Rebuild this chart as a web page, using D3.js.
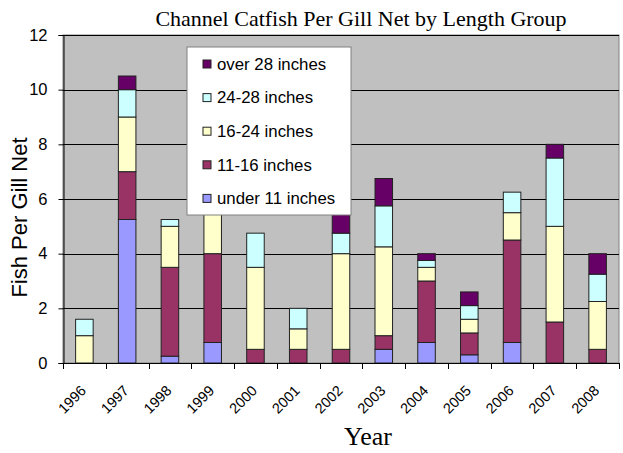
<!DOCTYPE html>
<html>
<head>
<meta charset="utf-8">
<script src="https://cdn.jsdelivr.net/npm/d3@7"></script>
<style>
  body { margin: 0; background: #fff; }
  text { font-family: "Liberation Sans", Arial, sans-serif; fill: #000; }
  .serif { font-family: "Liberation Serif", "Times New Roman", serif; }
</style>
</head>
<body>
<div id="chart"></div>
<script>
var years = ["1996", "1997", "1998", "1999", "2000", "2001", "2002",
             "2003", "2004", "2005", "2006", "2007", "2008"];
var groups = ["under 11 inches", "11-16 inches", "16-24 inches", "24-28 inches", "over 28 inches"];
var under11 = [0, 5.25, 0.25, 0.75, 0, 0, 0, 0.5, 0.75, 0.3, 0.75, 0, 0];
var in11to16 = [0, 1.75, 3.25, 3.25, 0.5, 0.5, 0.5, 0.5, 2.25, 0.8, 3.75, 1.5, 0.5];
var in16to24 = [1.0, 2.0, 1.5, 2.0, 3.0, 0.75, 3.5, 3.25, 0.5, 0.5, 1.0, 3.5, 1.75];
var in24to28 = [0.6, 1.0, 0.25, 0, 1.25, 0.75, 0.75, 1.5, 0.25, 0.5, 0.75, 2.5, 1.0];
var over28 = [0, 0.5, 0, 0, 0, 0, 1.0, 1.0, 0.25, 0.5, 0, 0.5, 0.75];
var yTicks = [0, 2, 4, 6, 8, 10, 12];
var colors = ["#9999ff", "#993366", "#ffffcc", "#ccffff", "#660066"];

var width = 623;
var height = 453;
var margin = {top: 35, right: 4, bottom: 90, left: 63};

var table = years.map(function(y, i) {
  return {
    year: y,
    "under 11 inches": under11[i],
    "11-16 inches": in11to16[i],
    "16-24 inches": in16to24[i],
    "24-28 inches": in24to28[i],
    "over 28 inches": over28[i]
  };
});

var series = d3.stack().keys(groups)(table);

var x = d3.scaleBand()
  .domain(years)
  .range([margin.left, width - margin.right])
  .paddingInner(0.59)
  .paddingOuter(0.295);

var y = d3.scaleLinear()
  .domain([0, 12])
  .range([height - margin.bottom, margin.top]);

var color = d3.scaleOrdinal().domain(groups).range(colors);

var svg = d3.select("#chart").append("svg")
  .attr("width", width)
  .attr("height", height);

// plot area
svg.append("rect")
  .attr("x", margin.left)
  .attr("y", margin.top)
  .attr("width", width - margin.right - margin.left)
  .attr("height", height - margin.bottom - margin.top)
  .attr("fill", "#c0c0c0")
  .attr("stroke", "#808080");

svg.append("g")
  .selectAll("line")
  .data(yTicks.slice(1))
  .enter().append("line")
    .attr("x1", margin.left)
    .attr("x2", width - margin.right)
    .attr("y1", function(d) { return Math.round(y(d)) + 0.5; })
    .attr("y2", function(d) { return Math.round(y(d)) + 0.5; })
    .attr("stroke", "#000")
    .attr("stroke-width", 1);

svg.append("g")
  .selectAll("g")
  .data(series)
  .enter().append("g")
    .attr("fill", function(d) { return color(d.key); })
  .selectAll("rect")
  .data(function(d) { return d; })
  .enter().append("rect")
    .attr("x", function(d) { return x(d.data.year); })
    .attr("y", function(d) { return y(d[1]); })
    .attr("width", x.bandwidth())
    .attr("height", function(d) { return y(d[0]) - y(d[1]); })
    .attr("stroke", "#222")
    .attr("stroke-width", 1);

// y axis
var yAxis = d3.axisLeft(y)
  .tickValues(yTicks)
  .tickSize(5)
  .tickPadding(11);

svg.append("g")
  .attr("transform", "translate(" + (margin.left + 0.5) + ",0)")
  .call(yAxis)
  .call(function(g) {
    g.select(".domain").attr("stroke", "#000");
    g.selectAll("text").style("font-size", "16.5px")
      .style("font-family", "Liberation Sans, Arial, sans-serif");
  });

// x axis: ticks at category boundaries
var step = x.step();
var boundaries = years.map(function(yr) { return x(yr) - x.paddingOuter() * step; })
  .concat([width - margin.right]);

var xg = svg.append("g");
xg.append("line")
  .attr("x1", margin.left)
  .attr("x2", width - margin.right)
  .attr("y1", y(0) + 0.5)
  .attr("y2", y(0) + 0.5)
  .attr("stroke", "#000");

xg.selectAll("line.tick")
  .data(boundaries)
  .enter().append("line")
    .attr("class", "tick")
    .attr("x1", function(d) { return Math.round(d) + 0.5; })
    .attr("x2", function(d) { return Math.round(d) + 0.5; })
    .attr("y1", y(0))
    .attr("y2", y(0) + 6)
    .attr("stroke", "#000");

xg.selectAll("text")
  .data(years)
  .enter().append("text")
    .attr("transform", function(d) {
      return "translate(" + (x(d) + x.bandwidth() / 2 - 1) + "," + (y(0) + 25) + ") rotate(-45)";
    })
    .attr("text-anchor", "end")
    .attr("dy", "0.35em")
    .style("font-size", "14.5px")
    .text(function(d) { return d; });

// titles
svg.append("text")
  .attr("class", "serif")
  .attr("x", 361)
  .attr("y", 26)
  .attr("text-anchor", "middle")
  .style("font-size", "22px")
  .text("Channel Catfish Per Gill Net by Length Group");

svg.append("text")
  .attr("class", "serif")
  .attr("x", 368)
  .attr("y", 445)
  .attr("text-anchor", "middle")
  .style("font-size", "26px")
  .text("Year");

svg.append("text")
  .attr("transform", "translate(27," + 217.5 + ") rotate(-90)")
  .attr("text-anchor", "middle")
  .style("font-size", "22px")
  .text("Fish Per Gill Net");

// legend
var legend = svg.append("g")
  .attr("transform", "translate(187,47)");

legend.append("rect")
  .attr("width", 164)
  .attr("height", 168)
  .attr("fill", "#fff")
  .attr("stroke", "#808080");

var items = legend.selectAll("g.item")
  .data(groups.slice().reverse())
  .enter().append("g")
    .attr("class", "item")
    .attr("transform", function(d, i) { return "translate(16," + (17 + i * 33.6) + ")"; });

items.append("rect")
  .attr("x", 0)
  .attr("y", -4)
  .attr("width", 8)
  .attr("height", 8)
  .attr("fill", function(d) { return color(d); })
  .attr("stroke", "#222");

items.append("text")
  .attr("x", 14)
  .attr("dy", "0.35em")
  .style("font-size", "16.8px")
  .text(function(d) { return d; });
</script>
</body>
</html>
